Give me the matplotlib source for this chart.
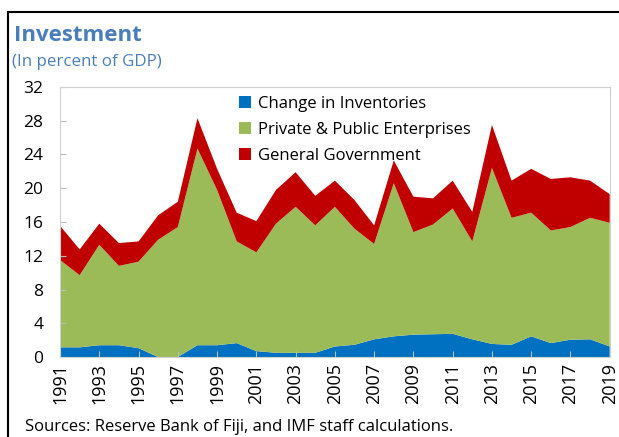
import numpy as np
import matplotlib.pyplot as plt
from matplotlib.lines import Line2D

plt.rcParams['font.family'] = ['Open Sans', 'DejaVu Sans']

years = np.arange(1991, 2020)
# top of each stacked layer (percent of GDP)
inventories_top = [1.15, 1.15, 1.4, 1.4, 1.05, 0.0, 0.0, 1.4, 1.4, 1.65,
                   0.7, 0.5, 0.5, 0.5, 1.25, 1.45, 2.1, 2.45, 2.65, 2.7,
                   2.75, 2.1, 1.55, 1.45, 2.45, 1.65, 2.05, 2.1, 1.25]
enterprises_top = [11.5, 9.7, 13.3, 10.8, 11.3, 13.9, 15.4, 24.7, 19.8, 13.7,
                   12.4, 15.8, 17.8, 15.6, 17.8, 15.2, 13.4, 20.6, 14.8, 15.7,
                   17.6, 13.7, 22.4, 16.5, 17.1, 15.0, 15.4, 16.5, 15.9]
total = [15.55, 12.75, 15.8, 13.5, 13.7, 16.8, 18.4, 28.3, 22.3, 17.1,
         16.1, 19.8, 21.9, 19.1, 20.9, 18.6, 15.6, 23.3, 19.0, 18.8,
         20.9, 17.2, 27.5, 20.9, 22.3, 21.1, 21.3, 20.9, 19.3]

inventories = np.array(inventories_top)
enterprises = np.array(enterprises_top) - inventories
government = np.array(total) - np.array(enterprises_top)

labels = ['Change in Inventories', 'Private & Public Enterprises', 'General Government']
colors = ['#0070C0', '#9BBB59', '#C00000']

fig = plt.figure(figsize=(6.19, 4.37), dpi=100)
ax = fig.add_axes([0.097, 0.183, 0.888, 0.618])

ax.stackplot(years, inventories, enterprises, government, colors=colors, labels=labels, linewidth=0)

ax.set_xlim(1991, 2019)
ax.set_ylim(0, 32)
ax.set_yticks(np.arange(0, 33, 4))
ax.set_xticks(np.arange(1991, 2020, 2))
ax.tick_params(axis='x', labelrotation=90, direction='in', length=4, color='#BBBBBB', labelsize=13, pad=4)
ax.tick_params(axis='y', direction='in', length=4, color='#BBBBBB', labelsize=12.5, pad=12)
for s in ax.spines.values():
    s.set_color('#D0D0D0')

leg = ax.legend(loc='upper left', bbox_to_anchor=(0.305, 1.01), frameon=False, fontsize=12,
                handlelength=0.7, handleheight=0.7, handletextpad=0.4, labelspacing=0.6,
                borderaxespad=0.3)

fig.text(0.022, 0.918, 'Investment', fontsize=16, fontweight='bold', color='#4A7EBB', va='center')
fig.text(0.02, 0.858, '(In percent of GDP)', fontsize=12.2, color='#4A7EBB', va='center')
fig.text(0.04, 0.022, 'Sources: Reserve Bank of Fiji, and IMF staff calculations.', fontsize=12, va='center')

# frame lines around the panel
fig.add_artist(Line2D([0.013, 0.013], [0.0, 0.973], color='black', linewidth=1.5, transform=fig.transFigure))
fig.add_artist(Line2D([0.013, 1.0], [0.973, 0.973], color='black', linewidth=1.5, transform=fig.transFigure))

fig.savefig('out.png', dpi=100)
